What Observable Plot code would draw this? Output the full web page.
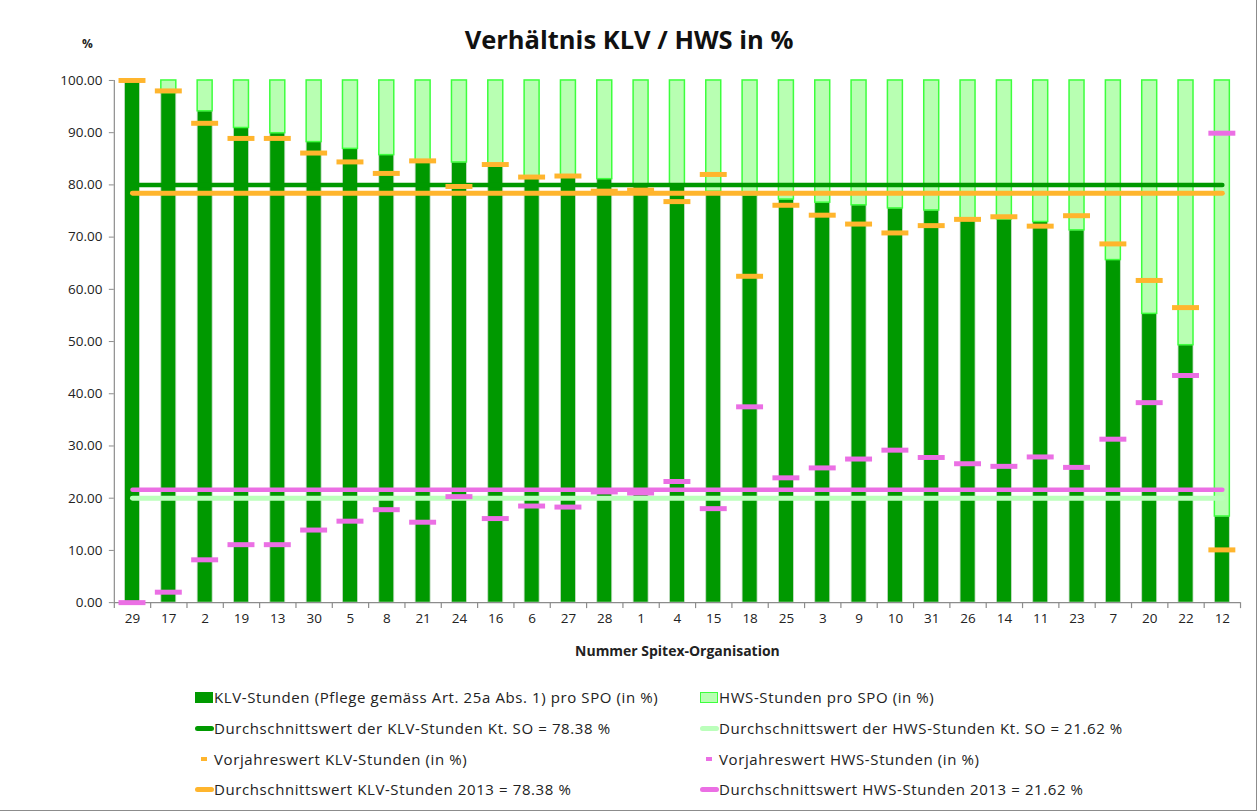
<!DOCTYPE html>
<html>
<head>
<meta charset="utf-8">
<script src="https://cdn.jsdelivr.net/npm/d3@7"></script>
<script src="https://cdn.jsdelivr.net/npm/@observablehq/plot@0.6"></script>
<style>
  body { margin: 0; background: #fff; font-family: "Open Sans", sans-serif; }
  #page { position: relative; width: 1256px; height: 810px; border-right: 1px solid #8c8c8c; border-bottom: 1px solid #8c8c8c; overflow: hidden; background:#fff; }
  #title { position: absolute; left: 0; top: 23px; width: 1258px; text-align: center; font-weight: bold; font-size: 25.5px; color: #111; line-height: 32px; }
  #pct { position: absolute; left: 82px; top: 35px; font-weight: bold; font-size: 12px; color: #222; }
  #chart { position: absolute; left: 0; top: 60px; }
  #chart svg [aria-label="x-axis label"] text, #chart svg [aria-label="x-axis label"] { font-weight: bold; font-size: 14px; }
  .leg { position: absolute; height: 20px; font-size: 15px; letter-spacing: 0.6px; color: #222; white-space: nowrap; line-height: 20px; }
  .sw { position: absolute; }
</style>
</head>
<body>
<div id="page">
  <div id="title">Verhältnis KLV / HWS in %</div>
  <div id="pct">%</div>
  <div id="chart"></div>
  <div id="legend"></div>
</div>
<script>
// ---- data ----
const categories = ["29","17","2","19","13","30","5","8","21","24","16","6","27","28","1","4","15","18","25","3","9","10","31","26","14","11","23","7","20","22","12"];
const klvShare = [100, 97.6, 94.1, 90.9, 89.9, 88.2, 86.9, 85.7, 84.4, 84.3, 83.8, 81.5, 81.4, 81.1, 79.9, 79.8, 78.7, 78.0, 77.2, 76.6, 76.1, 75.5, 75.1, 73.5, 73.4, 72.9, 71.3, 65.6, 55.3, 49.3, 16.5];
const hwsShare = [0, 2.4, 5.9, 9.1, 10.1, 11.8, 13.1, 14.3, 15.6, 15.7, 16.2, 18.5, 18.6, 18.9, 20.1, 20.2, 21.3, 22.0, 22.8, 23.4, 23.9, 24.5, 24.9, 26.5, 26.6, 27.1, 28.7, 34.4, 44.7, 50.7, 83.5];
const priorKlv = [100, 98.0, 91.8, 88.9, 88.9, 86.1, 84.4, 82.2, 84.6, 79.7, 83.9, 81.5, 81.7, 78.8, 79.0, 76.8, 82.0, 62.5, 76.1, 74.2, 72.5, 70.8, 72.2, 73.4, 73.9, 72.1, 74.1, 68.7, 61.7, 56.5, 10.1];
const priorHws = [0, 2.0, 8.2, 11.1, 11.1, 13.9, 15.6, 17.8, 15.4, 20.3, 16.1, 18.5, 18.3, 21.2, 21.0, 23.2, 18.0, 37.5, 23.9, 25.8, 27.5, 29.2, 27.8, 26.6, 26.1, 27.9, 25.9, 31.3, 38.3, 43.5, 89.9];
const avgKlvKt = 80.0;      // line as drawn
const avgHwsKt = 20.0;
const avgKlv2013 = 78.38;
const avgHws2013 = 21.62;
const yTicks = [0, 10, 20, 30, 40, 50, 60, 70, 80, 90, 100];
const legendLabels = [
  "KLV-Stunden (Pflege gemäss Art. 25a Abs. 1) pro SPO (in %)",
  "HWS-Stunden pro SPO (in %)",
  "Durchschnittswert der KLV-Stunden Kt. SO = 78.38 %",
  "Durchschnittswert der HWS-Stunden Kt. SO = 21.62 %",
  "Vorjahreswert KLV-Stunden (in %)",
  "Vorjahreswert HWS-Stunden (in %)",
  "Durchschnittswert KLV-Stunden 2013 = 78.38 %",
  "Durchschnittswert HWS-Stunden 2013 = 21.62 %"
];

// ---- colours ----
const C = {
  dark: "#009900", light: "#b8ffb2", lightStroke: "#3dff3d", lightLine: "#bbffbb",
  orange: "#ffb52d", magenta: "#eb6fe4", axis: "#8c8c8c"
};

const rows = categories.map((c, i) => ({cat: c, klv: klvShare[i], hws: hwsShare[i], pk: priorKlv[i], ph: priorHws[i]}));

const W = 1258, ML = 114, MR = 16;
const step = (W - ML - MR) / categories.length;
const barInset = (step - 15) / 2;
const tickInset = (step - 27) / 2;

const chart = Plot.plot({
  width: W, height: 605,
  marginTop: 20, marginBottom: 62, marginLeft: ML, marginRight: MR,
  style: {fontFamily: "Open Sans, sans-serif", fontSize: "13.5px", color: "#222", background: "transparent", overflow: "visible"},
  x: {domain: categories, padding: 0, round: false, label: null},
  y: {domain: [0, 100], label: null},
  marks: [
    Plot.barY(rows, {x: "cat", y1: 0, y2: "klv", fill: C.dark, stroke: "#c8dcc8", strokeWidth: 0.8, insetLeft: barInset, insetRight: barInset}),
    Plot.barY(rows, {x: "cat", y1: "klv", y2: d => d.klv + d.hws, fill: C.light, stroke: C.lightStroke, strokeWidth: 1.5, insetLeft: barInset, insetRight: barInset}),
    // axes lines
    Plot.ruleY([0], {stroke: C.axis, strokeWidth: 1.2}),
    Plot.ruleX([categories[0]], {x: d => d, y1: 0, y2: 100, dx: -step / 2, stroke: C.axis, strokeWidth: 1.2}),
    Plot.ruleX(categories, {x: d => d, y1: 0, y2: 0, insetBottom: -6, dx: -step / 2, stroke: C.axis, strokeWidth: 1.2}),
    Plot.ruleX([categories[categories.length - 1]], {x: d => d, y1: 0, y2: 0, insetBottom: -6, dx: step / 2, stroke: C.axis, strokeWidth: 1.2}),
    Plot.axisY({ticks: yTicks, tickFormat: d3.format(".2f"), tickSize: 5, tickPadding: 7, stroke: C.axis, fill: "#222", label: null}),
    Plot.axisX({tickSize: 0, tickPadding: 11, fill: "#222", label: "Nummer Spitex-Organisation", labelAnchor: "center", labelOffset: 53}),
    // average lines
    Plot.lineY(categories, {x: d => d, y: () => avgHwsKt, stroke: C.lightLine, strokeWidth: 5, strokeLinecap: "round"}),
    Plot.lineY(categories, {x: d => d, y: () => avgKlvKt, stroke: C.dark, strokeWidth: 4.5, strokeLinecap: "round"}),
    Plot.lineY(categories, {x: d => d, y: () => avgKlv2013, stroke: C.orange, strokeWidth: 5, strokeLinecap: "round"}),
    Plot.lineY(categories, {x: d => d, y: () => avgHws2013, stroke: C.magenta, strokeWidth: 4.5, strokeLinecap: "round"}),
    // prior year markers
    Plot.tickY(rows, {x: "cat", y: "pk", stroke: C.orange, strokeWidth: 5, insetLeft: tickInset, insetRight: tickInset}),
    Plot.tickY(rows, {x: "cat", y: "ph", stroke: C.magenta, strokeWidth: 5, insetLeft: tickInset, insetRight: tickInset})
  ]
});
document.getElementById("chart").appendChild(chart);

// ---- legend ----
const legend = document.getElementById("legend");
const colX = [195, 700];
const rowY = [697, 728, 759, 789];
const swatches = [
  {type: "rect", fill: C.dark, stroke: C.dark},
  {type: "rect", fill: C.light, stroke: C.lightStroke},
  {type: "line", color: C.dark},
  {type: "line", color: C.lightLine},
  {type: "dash", color: C.orange},
  {type: "dash", color: C.magenta},
  {type: "line", color: C.orange},
  {type: "line", color: C.magenta}
];
legendLabels.forEach((label, i) => {
  const col = i % 2, row = Math.floor(i / 2);
  const x0 = colX[col], yc = rowY[row];
  const s = swatches[i];
  const sw = document.createElement("div");
  sw.className = "sw";
  if (s.type === "rect") {
    Object.assign(sw.style, {left: x0 + "px", top: (yc - 5) + "px", width: "16px", height: "9px", background: s.fill, border: "1px solid " + s.stroke});
  } else if (s.type === "line") {
    Object.assign(sw.style, {left: x0 + "px", top: (yc - 2.5) + "px", width: "19px", height: "5px", background: s.color, borderRadius: "3px"});
  } else {
    Object.assign(sw.style, {left: (x0 + 6) + "px", top: (yc - 2) + "px", width: "6px", height: "4px", background: s.color});
  }
  legend.appendChild(sw);
  const t = document.createElement("div");
  t.className = "leg";
  t.textContent = label;
  Object.assign(t.style, {left: (x0 + 19) + "px", top: (yc - 10) + "px"});
  legend.appendChild(t);
});
</script>
</body>
</html>
